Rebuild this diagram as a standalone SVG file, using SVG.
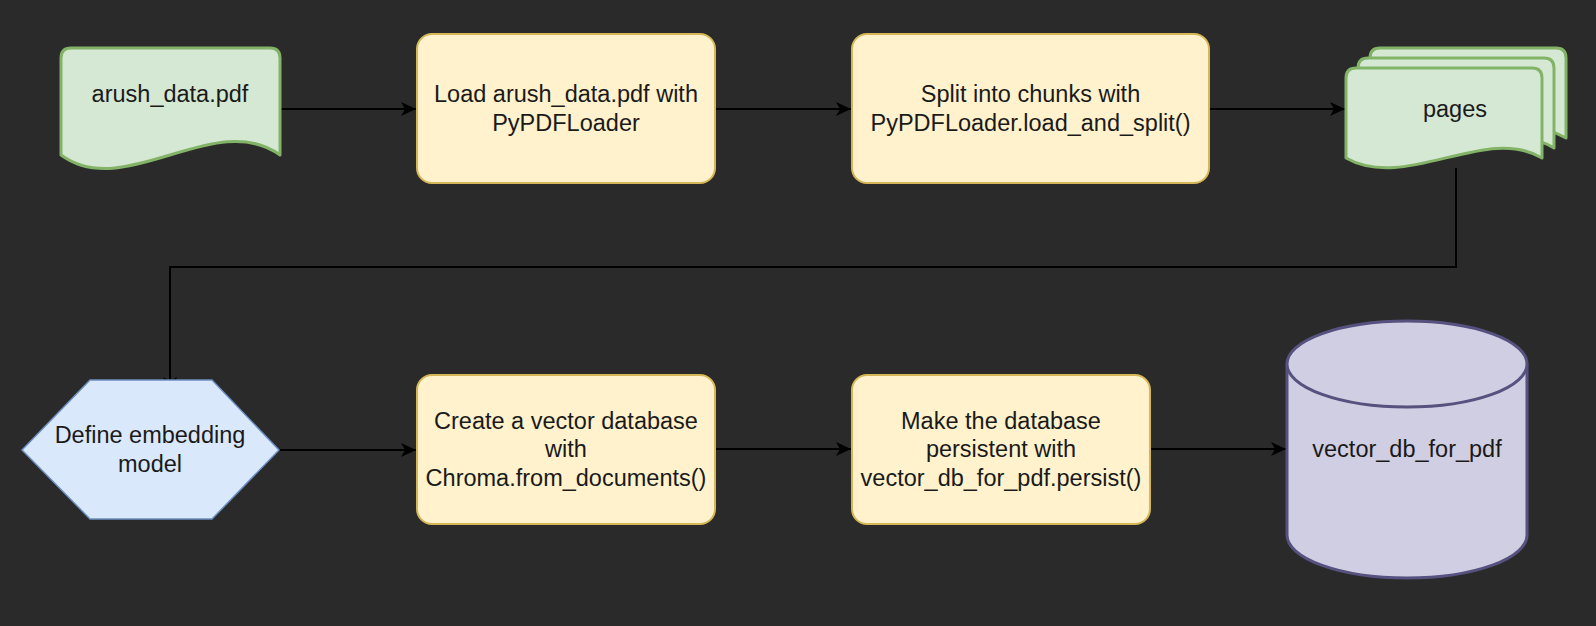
<svg xmlns="http://www.w3.org/2000/svg" width="1596" height="626" viewBox="0 0 1596 626">
  <style>
    .lbl { font-family: "Liberation Sans", Arial, sans-serif; font-size: 23.5px; fill: #1a1a1a; text-anchor: middle; }
    .proc { fill: #fff2cc; stroke: #d6b656; stroke-width: 2; }
    .doc { fill: #d5e8d4; stroke: #82b366; stroke-width: 3; stroke-linejoin: round; }
    .hex { fill: #dae8fc; stroke: #6c8ebf; stroke-width: 1.5; }
    .cyl { fill: #d0cee2; stroke: #56517e; stroke-width: 3; }
    .edge { fill: none; stroke: #000000; stroke-width: 2; }
  </style>
  <defs>
    <marker id="arrow" markerUnits="userSpaceOnUse" markerWidth="16" markerHeight="14" refX="15" refY="7" orient="auto">
      <path d="M0,0 L15,7 L0,14 L4,7 Z" fill="#000000"/>
    </marker>
  </defs>
  <rect x="0" y="0" width="1596" height="626" fill="#2a2a2a"/>

  <g id="connectors">
    <path class="edge" d="M280,109 L416,109" marker-end="url(#arrow)"/>
    <path class="edge" d="M715,109 L851,109" marker-end="url(#arrow)"/>
    <path class="edge" d="M1209,109 L1345,109" marker-end="url(#arrow)"/>
    <path class="edge" d="M1456,168 L1456,267 L170,267 L170,392" marker-end="url(#arrow)"/>
    <path class="edge" d="M279,450 L416,450" marker-end="url(#arrow)"/>
    <path class="edge" d="M715,449 L851,449" marker-end="url(#arrow)"/>
    <path class="edge" d="M1150,449 L1286,449" marker-end="url(#arrow)"/>
  </g>

  <g id="node-arush-data">
    <path class="doc" d="M61,58 Q61,48 71,48 L270,48 Q280,48 280,58 L280,155 C215,108 125,202 61,155 Z"/>
    <text class="lbl" x="170" y="102">arush_data.pdf</text>
  </g>

  <g id="node-load">
    <rect class="proc" x="417" y="34" width="298" height="149" rx="15" ry="15"/>
    <text class="lbl" x="566" y="102">Load arush_data.pdf with</text>
    <text class="lbl" x="566" y="131">PyPDFLoader</text>
  </g>

  <g id="node-split">
    <rect class="proc" x="852" y="34" width="357" height="149" rx="15" ry="15"/>
    <text class="lbl" x="1030.5" y="102">Split into chunks with</text>
    <text class="lbl" x="1030.5" y="131">PyPDFLoader.load_and_split()</text>
  </g>

  <g id="node-pages">
    <path class="doc" d="M1370,58 Q1370,48 1380,48 L1556,48 Q1566,48 1566,58 L1566,138 C1510,104 1430,172 1370,138 Z"/>
    <path class="doc" d="M1358,68 Q1358,58 1368,58 L1544,58 Q1554,58 1554,68 L1554,148 C1498,114 1418,182 1358,148 Z"/>
    <path class="doc" d="M1346,78 Q1346,68 1356,68 L1532,68 Q1542,68 1542,78 L1542,158 C1486,124 1406,192 1346,158 Z"/>
    <text class="lbl" x="1455" y="117">pages</text>
  </g>

  <g id="node-embedding">
    <polygon class="hex" points="22,450 90,380 212,380 279,450 212,519 90,519"/>
    <text class="lbl" x="150" y="443">Define embedding</text>
    <text class="lbl" x="150" y="472">model</text>
  </g>

  <g id="node-create-db">
    <rect class="proc" x="417" y="375" width="298" height="149" rx="15" ry="15"/>
    <text class="lbl" x="566" y="429">Create a vector database</text>
    <text class="lbl" x="566" y="457">with</text>
    <text class="lbl" x="566" y="486">Chroma.from_documents()</text>
  </g>

  <g id="node-persist">
    <rect class="proc" x="852" y="375" width="298" height="149" rx="15" ry="15"/>
    <text class="lbl" x="1001" y="429">Make the database</text>
    <text class="lbl" x="1001" y="457">persistent with</text>
    <text class="lbl" x="1001" y="486">vector_db_for_pdf.persist()</text>
  </g>

  <g id="node-vector-db">
    <path class="cyl" d="M1287,364 A120,43 0 0 1 1527,364 L1527,535 A120,43 0 0 1 1287,535 Z"/>
    <path class="cyl" fill="none" d="M1287,364 A120,43 0 0 0 1527,364"/>
    <text class="lbl" x="1407" y="457">vector_db_for_pdf</text>
  </g>
</svg>
